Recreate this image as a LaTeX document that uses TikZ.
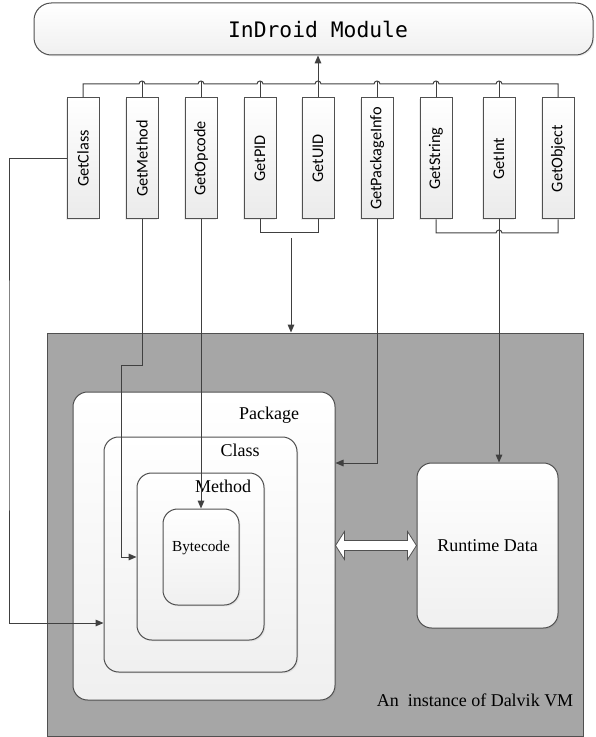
\documentclass[tikz,border=0pt]{standalone}
\usepackage{fontspec}
\setmainfont{Liberation Serif}
\newfontfamily\boxfont{Carlito}
\newfontfamily\modfont{DejaVu Sans Mono}
\usetikzlibrary{arrows.meta,calc,shadows}

\definecolor{wirecol}{RGB}{64,64,64}
\definecolor{edgecol}{RGB}{80,80,80}
\definecolor{vmgray}{RGB}{166,166,166}

\tikzset{every picture/.style={line width=0.75pt}}
\tikzset{
  wire/.style={draw=wirecol},
  arrow/.style={draw=wirecol,-{Triangle[length=6pt,width=5pt]}},
  fatarrow/.style={draw=edgecol,fill=white,line width=0.6pt},
  getbox/.style={draw=edgecol,top color=white,bottom color=gray!16,rotate=90,
    minimum width=90.75pt,minimum height=24pt,inner sep=0pt,
    font=\boxfont\fontsize{12.2}{14}\selectfont,
    drop shadow={shadow xshift=-1pt,shadow yshift=-1pt,opacity=0.15}},
  softbox/.style={draw=edgecol,top color=white,bottom color=gray!12,inner sep=0pt,
    rounded corners=11pt,drop shadow={shadow xshift=1pt,shadow yshift=-1pt,opacity=0.15}},
  sertxt/.style={inner sep=0pt,font=\fontsize{13.5}{16}\selectfont}
}

\begin{document}
\begin{tikzpicture}[x=0.75pt,y=0.75pt,yscale=-1,xscale=1]
\useasboundingbox (0,0) rectangle (595,737);

%Rounded Rect: module
\node[softbox,rounded corners=13pt,minimum width=419.25pt,minimum height=39pt] (mod) at (313.5,29) {};
% Text Node
\node[inner sep=0pt,font=\modfont\fontsize{16}{18}\selectfont] (modlbl) at (318,29) {InDroid Module};

%Shape: Rectangle (getters)
\node[getbox] (gcls) at (83,158.5) {GetClass};
\node[getbox] (gmeth) at (142,158.5) {GetMethod};
\node[getbox] (gopc) at (201,158.5) {GetOpcode};
\node[getbox] (gpid) at (260,158.5) {GetPID};
\node[getbox] (guid) at (318,158.5) {GetUID};
\node[getbox] (gpkg) at (377,158.5) {GetPackageInfo};
\node[getbox] (gstr) at (436,158.5) {GetString};
\node[getbox] (gint) at (499,158.5) {GetInt};
\node[getbox] (gobj) at (558,158.5) {GetObject};

%Shape: Rectangle (vm)
\node[draw=edgecol,fill=vmgray,minimum width=402pt,minimum height=302.25pt,inner sep=0pt] (vm) at (315,534.5) {};

%Rounded Rect: nested boxes
\node[softbox,minimum width=196.5pt,minimum height=231pt] (pkg) at (204,546) {};
\node[softbox,minimum width=144.75pt,minimum height=176.25pt] (cls) at (200.5,554.5) {};
\node[softbox,minimum width=95.25pt,minimum height=125.25pt] (meth) at (200.5,556.5) {};
\node[softbox,minimum width=57pt,minimum height=72pt] (byte) at (201,557) {};
\node[softbox,minimum width=105.75pt,minimum height=123.75pt,sertxt] (rt) at (487.5,545.5) {Runtime Data};

% Text Node
\node[sertxt] (pkglbl) at (269,415) {Package};
% Text Node
\node[sertxt] (clslbl) at (240,450) {Class};
% Text Node
\node[sertxt] (methlbl) at (223,486) {Method};
% Text Node
\node[sertxt,font=\fontsize{11.5}{14}\selectfont] (bytelbl) at (201,548) {Bytecode};
% Text Node
\node[sertxt] (vmlbl) at (475,700) {An~ instance of Dalvik VM};

%Connectors: bus to module
\coordinate (bus) at (0,84);
\coordinate (hop) at (0,81);
\foreach \n in {gmeth,gopc,gpid,guid,gpkg,gstr,gint}
  \draw[wire] (\n.east) -- (\n.east |- hop);
\draw[wire] (gcls.east) -- (gcls.east |- bus)
  foreach \n in {gmeth,gopc,gpid,guid,gpkg,gstr,gint} {
    -- ($(\n.east |- bus)+(-3,0)$) arc[start angle=180,end angle=360,radius=3] }
  -- (gobj.east |- bus) -- (gobj.east);
\draw[arrow] (guid.east |- hop) -- (guid.east |- mod.south);

%Connectors: getters into the vm
\coordinate (lft) at (9,400);
\draw[arrow] (gcls.north) -| (lft) |- (cls.west |- 0,623);
\draw[arrow] (gmeth.west) |- (121,365) |- (meth.west |- 0,557);
\draw[arrow] (gopc.west) -- (gopc.west |- byte.north);
\draw[wire] (gpid.west) |- (guid.west |- 0,233) -- (guid.west);
\coordinate (idend) at (291,238);
\draw[arrow] (idend) -- (idend |- vm.north);
\draw[arrow] (gpkg.west) |- (pkg.east |- 0,463);
\draw[wire] (gstr.west) |- ($(gint.west |- 0,233)+(-3,0)$)
  arc[start angle=180,end angle=360,radius=3] -| (gobj.west);
\draw[arrow] (gint.west) -- (gint.west |- rt.north);

%Double arrow
\draw[fatarrow] (pkg.east |- rt.west) -- ++(9,-14) -- ++(0,9) -- ($(rt.west)+(-9,-5)$)
  -- ++(0,-9) -- (rt.west) -- ++(-9,14) -- ++(0,-9) -- ($(pkg.east |- rt.west)+(9,5)$)
  -- ++(0,9) -- cycle;

\end{tikzpicture}
\end{document}
